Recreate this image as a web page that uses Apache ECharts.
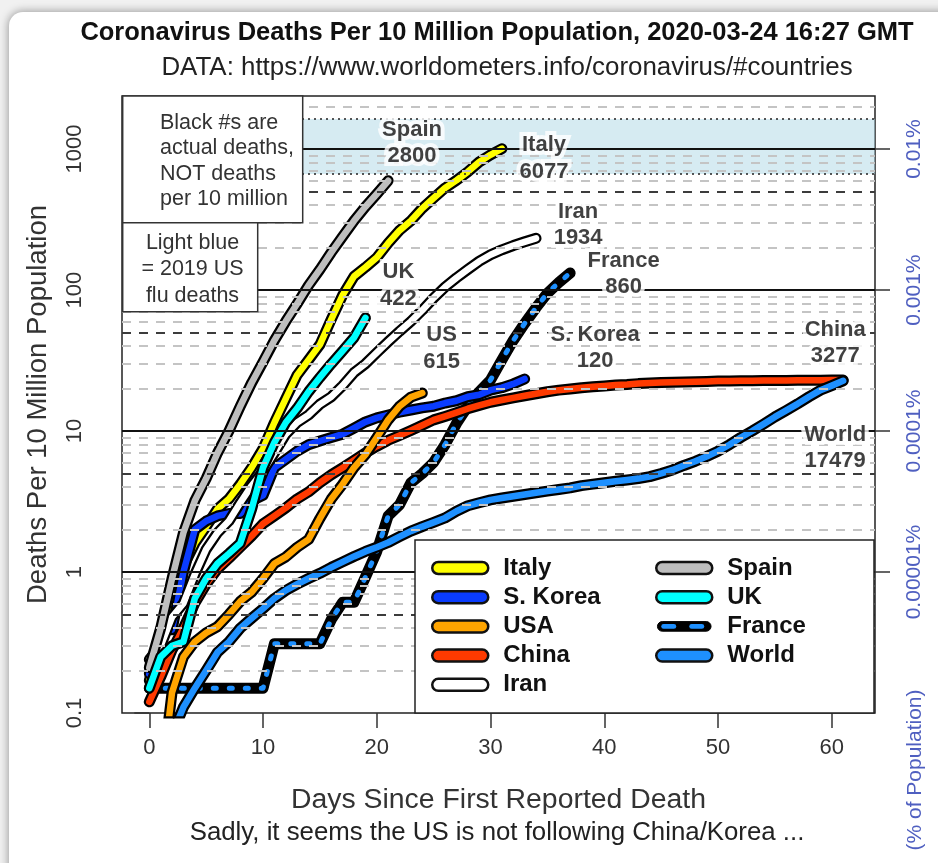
<!DOCTYPE html>
<html>
<head>
<meta charset="utf-8">
<script src="https://cdn.jsdelivr.net/npm/echarts@6/dist/echarts.min.js"></script>
<style>
  html, body { margin: 0; padding: 0; width: 938px; height: 863px; overflow: hidden; background: #f1f1f1; }
  #card { position: absolute; left: 9px; top: 12px; width: 1000px; height: 900px; border-radius: 14px;
          background: #fff; box-shadow: 0 0 9px 1px rgba(0,0,0,0.35); }
  #chart { position: absolute; left: 0; top: 0; width: 938px; height: 863px; }
</style>
</head>
<body>
<div id="card"></div>
<div id="chart"></div>
<script>
// Deaths per 10 million population, indexed by days since each country's first reported death
const italy  = [0.17, 0.33, 0.5, 1.1, 1.6, 2.1, 2.8, 3.3, 4.2, 5.5, 7.5, 11.5, 17, 25, 32, 41, 62, 92, 125, 145,
                170, 215, 265, 310, 380, 450, 530, 600, 690, 810, 910, 1006];
const korea  = [0.19, 0.39, 0.39, 1.0, 2.0, 2.3, 2.5, 2.6, 2.6, 3.2, 3.5, 5.5, 6.3, 7.2, 8.0, 8.5, 9.0, 9.5, 10.5, 11.6,
                12.4, 13.0, 13.6, 14.1, 14.6, 15.0, 15.8, 16.4, 17.5, 18.1, 19.5, 20.3, 21.6, 23.4];
const usa    = [0.03, 0.03, 0.14, 0.25, 0.32, 0.37, 0.41, 0.5, 0.62, 0.72, 0.9, 1.15, 1.28, 1.5, 1.7, 2.4, 3.3, 4.2, 5.5, 6.8,
                9, 12, 15, 17.4, 18.6];
const china  = [0.12, 0.18, 0.28, 0.4, 0.6, 0.82, 1.05, 1.25, 1.5, 1.8, 2.2, 2.5, 2.85, 3.3, 3.7, 4.3, 4.9, 5.5, 6.2, 7.0,
                7.8, 8.6, 9.3, 10.1, 11, 12, 12.7, 13.5, 14.4, 15.2, 16, 16.6, 17.2, 17.8, 18.4, 19, 19.5, 19.9, 20.3, 20.6,
                20.9, 21.2, 21.4, 21.7, 21.9, 22.1, 22.2, 22.3, 22.4, 22.5, 22.6, 22.6, 22.7, 22.7, 22.8, 22.8, 22.8, 22.9, 22.9, 22.9,
                23.0, 23.0];
const iran   = [0.24, 0.3, 0.48, 0.6, 0.96, 1.45, 1.9, 2.3, 3.1, 4.1, 5.2, 7.0, 9.5, 11.5, 13, 15.5, 17.5, 21, 26, 30,
                36, 43, 51, 60, 72, 88, 105, 122, 140, 160, 178, 193, 207, 220, 233];
const spain  = [0.21, 0.4, 0.9, 1.9, 3.2, 4.6, 7, 10, 15, 22, 31, 44, 60, 80, 108, 140, 185, 240, 310, 390, 480, 596];
const uk     = [0.15, 0.25, 0.3, 0.32, 0.65, 0.9, 1.15, 1.35, 1.6, 2.8, 5.5, 8.3, 11.5, 14.5, 19, 24, 30, 37, 46, 63.5];
const france = [0.15, 0.15, 0.15, 0.15, 0.15, 0.15, 0.15, 0.15, 0.15, 0.15, 0.15, 0.31, 0.31, 0.31, 0.31, 0.31, 0.46, 0.61, 0.61, 0.92,
                1.4, 2.5, 3.0, 4.3, 5.0, 6.0, 8.0, 11.3, 15, 19, 23, 32, 44, 58, 75, 95, 113, 132];
const world  = [0.02, 0.04, 0.07, 0.11, 0.15, 0.2, 0.27, 0.32, 0.4, 0.47, 0.55, 0.65, 0.74, 0.82, 0.9, 0.98, 1.08, 1.18, 1.29, 1.4,
                1.5, 1.62, 1.78, 1.95, 2.1, 2.25, 2.42, 2.7, 2.95, 3.1, 3.25, 3.35, 3.45, 3.55, 3.65, 3.75, 3.85, 3.95, 4.1, 4.2,
                4.3, 4.4, 4.5, 4.6, 4.75, 5.0, 5.3, 5.7, 6.1, 6.6, 7.2, 8.0, 9.0, 10.0, 11.2, 12.6, 14.0, 15.6, 17.5, 19.5,
                21.0, 22.7];

// Tick labels
const xTicks = [0, 10, 20, 30, 40, 50, 60];
const yTicks = [0.1, 1, 10, 100, 1000];
const pctTicks = [1, 10, 100, 1000];

// 2019 US flu deaths, per 10 million population (low / high)
const fluBand = [665, 1632];

// End-of-line tags: actual death counts
const tagNames  = ['Spain', 'Italy', 'Iran', 'France', 'UK', 'US', 'S. Korea', 'China', 'World'];
const tagDeaths = [2800, 6077, 1934, 860, 422, 615, 120, 3277, 17479];
// where each tag sits, in (day, deaths per 10M)
const tagDay   = [23.1, 34.7, 37.7, 41.7, 21.9, 25.7, 39.2, 60.3, 60.3];
const tagLevel = [1104, 857, 289, 130, 108, 38.5, 38.8, 42, 7.6];

const legendLeft  = ['Italy', 'S. Korea', 'USA', 'China', 'Iran'];
const legendRight = ['Spain', 'UK', 'France', 'World'];
const drawOrder   = ['Italy', 'France', 'S. Korea', 'China', 'Iran', 'Spain', 'UK', 'USA', 'World'];

const valuesOf = { 'Italy': italy, 'S. Korea': korea, 'USA': usa, 'China': china, 'Iran': iran,
                   'Spain': spain, 'UK': uk, 'France': france, 'World': world };
const colorOf  = { 'Italy': '#ffff00', 'S. Korea': '#0a3cff', 'USA': '#ffa500', 'China': '#ff3a00', 'Iran': '#ffffff',
                   'Spain': '#bebebe', 'UK': '#00ffff', 'France': '#1e90ff', 'World': '#1e90ff' };

const FONT = '"Liberation Sans", Arial, Helvetica, sans-serif';
const TEXT = '#333';
const PCT_BLUE = '#4f5fc0';
const Y_MIN = 0.1, Y_MAX = 2380;

// Horizontal reference lines: solid at decades, dark dashes at 5s, light dashes elsewhere
const gridLines = [];
[0.1, 1, 10, 100, 1000].forEach(dec => {
  for (let m = 1; m <= 9; m++) {
    const v = +(dec * m).toPrecision(3);
    if (v <= Y_MIN || v >= Y_MAX) continue;
    let ls;
    if (m === 1) ls = { color: '#111', width: 1.8, type: 'solid' };
    else if (m === 5) ls = { color: '#3c3c3c', width: 2, type: [9, 8] };
    else ls = { color: '#c4c4c4', width: 1.8, type: [9, 8] };
    gridLines.push({ yAxis: v, lineStyle: ls });
  }
});

const series = [];
series.push({
  name: 'reference lines', type: 'line', data: [], z: 1, silent: true,
  markLine: { silent: true, symbol: ['none', 'none'], label: { show: false }, animation: false,
              emphasis: { disabled: true }, data: gridLines }
});
series.push({
  name: 'flu band', type: 'line', data: [], z: 2, silent: true,
  markArea: { silent: true, itemStyle: { color: 'rgba(173,216,230,0.5)' }, emphasis: { disabled: true },
              data: [[{ yAxis: fluBand[0] }, { yAxis: fluBand[1] }]] },
  markLine: { silent: true, symbol: ['none', 'none'], label: { show: false }, animation: false,
              emphasis: { disabled: true },
              lineStyle: { color: '#222', width: 1.6, type: [2, 4] },
              data: fluBand.map(v => ({ yAxis: v })) }
});

drawOrder.forEach(name => {
  const pts = valuesOf[name].map((v, i) => [i, v]);
  series.push({
    name: name + ' outline', type: 'line', data: pts, symbol: 'none', z: 3, silent: true,
    lineStyle: { color: '#000', width: 11, cap: 'round', join: 'round' },
    itemStyle: { color: '#000' }, emphasis: { disabled: true }
  });
  const inner = name === 'France'
    ? { color: colorOf[name], width: 5, type: [3, 13], cap: 'round', join: 'round' }
    : { color: colorOf[name], width: 6.5, cap: 'round', join: 'round' };
  series.push({
    name, type: 'line', data: pts, symbol: 'none', z: 3, silent: true,
    lineStyle: inner, itemStyle: { color: colorOf[name] }, emphasis: { disabled: true }
  });
});

series.push({
  name: 'tags', type: 'scatter', z: 10, silent: true, symbolSize: 1,
  itemStyle: { color: 'rgba(0,0,0,0)' },
  data: tagNames.map((n, i) => ({ name: n + '\n' + tagDeaths[i], value: [tagDay[i], tagLevel[i]] })),
  label: { show: true, position: 'inside', formatter: p => p.name,
           fontFamily: FONT, fontSize: 22, fontWeight: 'bold', color: '#111', lineHeight: 26.5,
           textBorderColor: '#fff', textBorderWidth: 8 }
});

const pill = 'path://M6,0L50,0A6,6,0,0,1,50,12L6,12A6,6,0,0,1,6,0Z';
const franceSvg = "<svg xmlns='http://www.w3.org/2000/svg' width='56' height='12' viewBox='0 0 56 12'>" +
  "<rect x='1.2' y='1.2' width='53.6' height='9.6' rx='4.8' fill='#000' stroke='#000' stroke-width='1'/>" +
  "<rect x='5' y='3.6' width='15' height='4.8' rx='2.4' fill='#1e90ff'/>" +
  "<rect x='33' y='3.6' width='15' height='4.8' rx='2.4' fill='#1e90ff'/></svg>";
const franceIcon = 'image://data:image/svg+xml;charset=utf-8,' + encodeURIComponent(franceSvg);

function legendItem(name) {
  if (name === 'France') return { name, icon: franceIcon };
  return { name, icon: pill, itemStyle: { color: colorOf[name], borderColor: '#111', borderWidth: 2.5 } };
}
function legendColumn(left, names) {
  return {
    orient: 'vertical', left, top: 556, padding: 0, itemWidth: 56, itemHeight: 12, itemGap: 5.2,
    selectedMode: false, z: 30,
    textStyle: { fontFamily: FONT, fontSize: 24, fontWeight: 'bold', color: '#111', lineHeight: 24,
                 padding: [0, 0, 0, 10] },
    data: names.map(legendItem)
  };
}

const option = {
  animation: false,
  textStyle: { fontFamily: FONT },
  title: [
    { text: 'Coronavirus Deaths Per 10 Million Population, 2020-03-24 16:27 GMT', left: 497, top: 20,
      textAlign: 'center', padding: 0,
      textStyle: { fontFamily: FONT, fontSize: 25.5, fontWeight: 'bold', color: '#111' } },
    { text: 'DATA: https://www.worldometers.info/coronavirus/#countries', left: 507, top: 55,
      textAlign: 'center', padding: 0,
      textStyle: { fontFamily: FONT, fontSize: 25.9, fontWeight: 'normal', color: '#222' } },
    { text: 'Sadly, it seems the US is not following China/Korea ...', left: 497, top: 820,
      textAlign: 'center', padding: 0,
      textStyle: { fontFamily: FONT, fontSize: 25.8, fontWeight: 'normal', color: '#222' } }
  ],
  grid: { left: 122, right: 63, top: 96, bottom: 150, show: true, backgroundColor: '#fff',
          borderColor: '#222', borderWidth: 1.5 },
  xAxis: {
    type: 'value', min: -2.4, max: 63.8,
    axisLine: { show: false }, splitLine: { show: false },
    axisTick: { show: true, length: 15, customValues: xTicks, lineStyle: { color: TEXT, width: 1.5 } },
    axisLabel: { customValues: xTicks, fontSize: 22, color: TEXT, margin: 24, fontFamily: FONT },
    name: 'Days Since First Reported Death', nameLocation: 'middle', nameGap: 73,
    nameTextStyle: { fontSize: 28.4, color: TEXT, fontFamily: FONT }
  },
  yAxis: [
    {
      type: 'log', logBase: 10, min: Y_MIN, max: Y_MAX, position: 'left',
      axisLine: { show: false }, splitLine: { show: false },
      axisTick: { show: true, length: 15, customValues: yTicks, lineStyle: { color: TEXT, width: 1.5 } },
      axisLabel: { customValues: yTicks, rotate: 90, margin: 36, fontSize: 22, color: TEXT, fontFamily: FONT,
                   formatter: v => String(v) },
      name: 'Deaths Per 10 Million Population', nameLocation: 'middle', nameRotate: 90, nameGap: 70,
      nameTextStyle: { fontSize: 27.5, color: TEXT, fontFamily: FONT }
    },
    {
      type: 'log', logBase: 10, min: Y_MIN, max: Y_MAX, position: 'right',
      axisLine: { show: false }, splitLine: { show: false },
      axisTick: { show: true, length: 15, customValues: pctTicks, lineStyle: { color: TEXT, width: 1.5 } },
      axisLabel: { customValues: pctTicks, rotate: 90, margin: 29, fontSize: 21, color: PCT_BLUE, fontFamily: FONT,
                   formatter: v => +(v / 1e5).toPrecision(1) + '%' }
    }
  ],
  legend: [legendColumn(431, legendLeft), legendColumn(655, legendRight)],
  graphic: [
    { type: 'rect', z: 20, silent: true, shape: { x: 415, y: 540, width: 459, height: 173 },
      style: { fill: '#fff', stroke: '#222', lineWidth: 1.5 } },
    { type: 'rect', z: 20, silent: true, shape: { x: 122.7, y: 96, width: 180, height: 126.7 },
      style: { fill: '#fff', stroke: '#333', lineWidth: 1.5 } },
    { type: 'text', z: 21, silent: true, x: 160, y: 110,
      style: { text: 'Black #s are\nactual deaths,\nNOT deaths\nper 10 million', font: '21.5px ' + FONT,
               lineHeight: 25.5, fill: '#333', align: 'left', verticalAlign: 'top' } },
    { type: 'rect', z: 20, silent: true, shape: { x: 122.7, y: 222.7, width: 135, height: 89 },
      style: { fill: '#fff', stroke: '#333', lineWidth: 1.5 } },
    { type: 'text', z: 21, silent: true, x: 192.5, y: 229.5,
      style: { text: 'Light blue\n= 2019 US\nflu deaths', font: '21.5px ' + FONT,
               lineHeight: 26.6, fill: '#333', align: 'center', verticalAlign: 'top' } },
    { type: 'text', z: 21, silent: true, x: 915, y: 770, rotation: Math.PI / 2,
      style: { text: '(% of Population)', font: '21px ' + FONT, fill: PCT_BLUE,
               align: 'center', verticalAlign: 'middle' } }
  ],
  series
};

const chart = echarts.init(document.getElementById('chart'), null, { renderer: 'canvas' });
chart.setOption(option);
</script>
</body>
</html>
